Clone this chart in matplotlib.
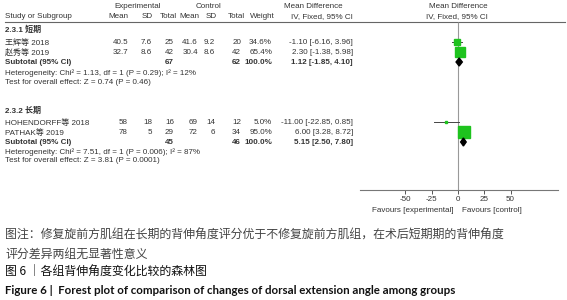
import matplotlib
matplotlib.use("Agg")
import matplotlib.pyplot as plt
from matplotlib.patches import Polygon

# ---------------- data ----------------
studies = ['王辉等 2018', '赵秀等 2019', 'HOHENDORFF等 2018', 'PATHAK等 2019']
exp_mean = [40.5, 32.7, 58, 78]
exp_sd = [7.6, 8.6, 18, 5]
exp_n = [25, 42, 16, 29]
ctrl_mean = [41.6, 30.4, 69, 72]
ctrl_sd = [9.2, 8.6, 14, 6]
ctrl_n = [20, 42, 12, 34]
weights = [34.6, 65.4, 5.0, 95.0]
md = [-1.10, 2.30, -11.00, 6.00]
ci_lo = [-6.16, -1.38, -22.85, 3.28]
ci_hi = [3.96, 5.98, 0.85, 8.72]

groups = ['2.3.1 短期', '2.3.2 长期']
sub_md = [1.12, 5.15]
sub_lo = [-1.85, 2.50]
sub_hi = [4.10, 7.80]
sub_exp_n = [67, 45]
sub_ctrl_n = [62, 46]
het_chi2 = [1.13, 7.51]
het_df = [1, 1]
het_p = ['0.29', '0.006']
het_i2 = [12, 87]
z_val = [0.74, 3.81]
z_p = ['0.46', '0.0001']

xticks = [-50, -25, 0, 25, 50]
fav_left = 'Favours [experimental]'
fav_right = 'Favours [control]'

caption1 = '图注：修复旋前方肌组在长期的背伸角度评分优于不修复旋前方肌组，在术后短期期的背伸角度'
caption2 = '评分差异两组无显著性意义'
title_cn = '图 6 ｜各组背伸角度变化比较的森林图'
title_en = 'Figure 6 |  Forest plot of comparison of changes of dorsal extension angle among groups'

# ---------------- layout ----------------
W, H = 567, 300
fig = plt.figure(figsize=(W / 100, H / 100), dpi=100)
tax = fig.add_axes([0, 0, 1, 1])
tax.set_xlim(0, W)
tax.set_ylim(H, 0)
tax.axis('off')

FAM = ['Liberation Sans', 'Noto Sans CJK SC', 'DejaVu Sans']
FS = 5.8
TC = '#333333'

def t(x, y, s, ha='left', bold=False, **kw):
    tax.text(x, y, s, ha=ha, va='center', fontsize=FS, family=FAM,
             color=TC, fontweight='bold' if bold else 'normal', **kw)

# headers
t(138, 7, 'Experimental', ha='center')
t(209, 7, 'Control', ha='center')
t(313, 7, 'Mean Difference', ha='center')
t(458, 7, 'Mean Difference', ha='center')
hy = 17
t(5, hy, 'Study or Subgroup')
t(128, hy, 'Mean', ha='right')
t(153, hy, 'SD', ha='right')
t(177, hy, 'Total', ha='right')
t(199, hy, 'Mean', ha='right')
t(217, hy, 'SD', ha='right')
t(245, hy, 'Total', ha='right')
t(275, hy, 'Weight', ha='right')
t(322, hy, 'IV, Fixed, 95% CI', ha='center')
t(457, hy, 'IV, Fixed, 95% CI', ha='center')
tax.plot([5, 565], [22, 22], color='#666666', lw=0.8)

cols_r = [128, 152, 174, 198, 215, 241, 272, 353]

group_rows = [[30, 43, 53, 63, 73, 82], [111, 123, 133, 143, 152, 161]]

# forest axes
x0, x1 = 360, 558
fax = fig.add_axes([x0 / W, 0, (x1 - x0) / W, 1])
fax.set_ylim(H, 0)
fax.set_xlim(-93.3, 95.2)
fax.patch.set_alpha(0)
for s in ['top', 'left', 'right']:
    fax.spines[s].set_visible(False)
fax.spines['bottom'].set_position(('data', 190))
fax.spines['bottom'].set_color('#777777')
fax.spines['bottom'].set_linewidth(0.8)
fax.set_yticks([])
fax.set_xticks(xticks)
fax.set_xticklabels([str(v) for v in xticks])
fax.tick_params(axis='x', direction='out', length=3, width=0.7, color='#555555',
                labelsize=FS, labelcolor=TC, pad=1.5)
for lab in fax.get_xticklabels():
    lab.set_family(FAM)
fax.vlines(0, 22, 190, color='#999999', lw=0.8, zorder=1)

def fmt(v):
    return f'{v:g}'

for g in range(2):
    rows = group_rows[g]
    t(5, rows[0], groups[g], bold=True)
    for k in range(2):
        i = g * 2 + k
        y = rows[1 + k]
        t(5, y, studies[i])
        vals = [fmt(exp_mean[i]), fmt(exp_sd[i]), str(exp_n[i]),
                fmt(ctrl_mean[i]), fmt(ctrl_sd[i]), str(ctrl_n[i]),
                f'{weights[i]:.1f}%',
                f'{md[i]:.2f} [{ci_lo[i]:.2f}, {ci_hi[i]:.2f}]']
        for xr, v in zip(cols_r, vals):
            t(xr, y, v, ha='right')
        # forest marks
        fax.plot([ci_lo[i], ci_hi[i]], [y - 1, y - 1], color='#444444', lw=0.7, zorder=2)
        fax.plot([md[i]], [y - 1], marker='s', ms=0.85 * weights[i] ** 0.5,
                 color='#1ec31e', mec='#1ec31e', zorder=3, linestyle='none')
    ys = rows[3]
    t(5, ys, 'Subtotal (95% CI)', bold=True)
    t(cols_r[2], ys, str(sub_exp_n[g]), ha='right', bold=True)
    t(cols_r[5], ys, str(sub_ctrl_n[g]), ha='right', bold=True)
    t(cols_r[6], ys, '100.0%', ha='right', bold=True)
    t(cols_r[7], ys, f'{sub_md[g]:.2f} [{sub_lo[g]:.2f}, {sub_hi[g]:.2f}]', ha='right', bold=True)
    t(5, rows[4], f'Heterogeneity: Chi² = {het_chi2[g]:.2f}, df = {het_df[g]} (P = {het_p[g]}); I² = {het_i2[g]}%')
    t(5, rows[5], f'Test for overall effect: Z = {z_val[g]:.2f} (P = {z_p[g]})')
    yd = ys - 1
    fax.add_patch(Polygon([[sub_lo[g], yd], [sub_md[g], yd - 4], [sub_hi[g], yd],
                           [sub_md[g], yd + 4]], closed=True, color='black', zorder=4))

t(454, 210, fav_left, ha='right')
t(462, 210, fav_right, ha='left')

# captions
CJK = ['Noto Sans CJK SC', 'DejaVu Sans']
tax.text(5, 235, caption1, ha='left', va='center', fontsize=8.6, family=CJK, color='#444444')
tax.text(5, 254, caption2, ha='left', va='center', fontsize=8.6, family=CJK, color='#444444')
tax.text(5, 272, title_cn, ha='left', va='center', fontsize=8.6, family=CJK, color='#111111')
tax.text(5, 290, title_en, ha='left', va='center', fontsize=8.3, family=['Lato', 'DejaVu Sans'],
         color='#111111', fontweight='bold')

fig.savefig('out.png', dpi=100)
